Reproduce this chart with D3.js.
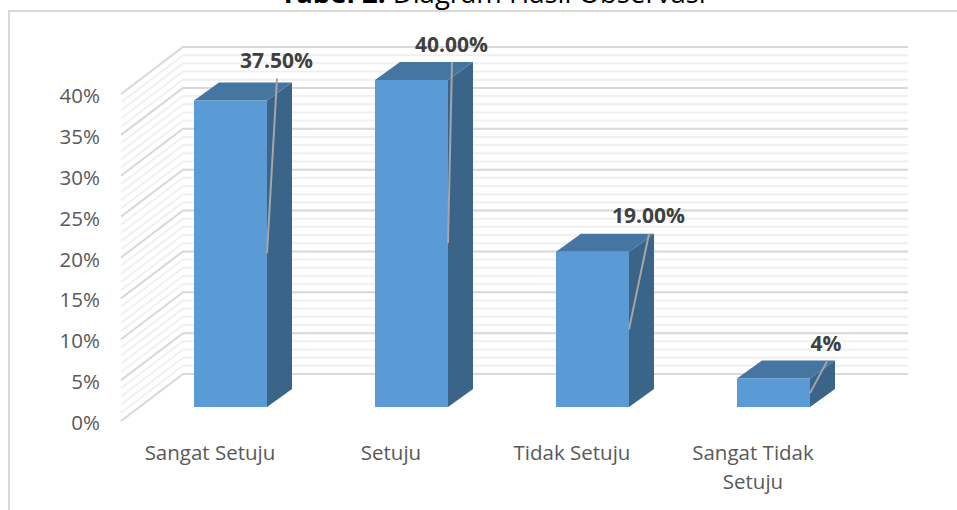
<!DOCTYPE html>
<html>
<head>
<meta charset="utf-8">
<script src="https://d3js.org/d3.v7.min.js"></script>
<style>
    html, body { margin: 0; padding: 0; background: white; overflow: hidden; }
    text { font-family: "Open Sans", sans-serif; }
    .tick text { fill: #595959; font-size: 20.5px; }
    .value-label { fill: #404040; font-size: 21px; font-weight: bold; text-anchor: middle; }
    .title { fill: #000; font-size: 27.5px; text-anchor: middle; }
</style>
</head>
<body>
<svg id="chart" width="957" height="510"></svg>
<script>
    // data
    const categories = ["Sangat Setuju", "Setuju", "Tidak Setuju", "Sangat Tidak Setuju"];
    const values = [37.5, 40, 19, 3.5];
    const valueLabels = ["37.50%", "40.00%", "19.00%", "4%"];
    const yTicks = [0, 5, 10, 15, 20, 25, 30, 35, 40];
    const minorTicks = d3.range(0, 41);

    // label placement relative to the bar's front top-right corner
    const labelDx = [9.5, 3.5, 19.5, 16];
    const labelDy = [-32, -28, -29, -27];
    const leaderTopDx = [10, 4, 20, 17];
    const leaderTopDy = [-22, -18, -18, -17];
    const leaderLow = [18.8, 20.05, 9.5, 1.7];

    const svg = d3.select("#chart");

    // chart frame, only top and left show
    svg.append("path")
        .attr("d", "M9,510V11H957")
        .attr("fill", "none")
        .attr("stroke", "#d9d9d9")
        .attr("stroke-width", 2);

    const title = svg.append("text").attr("class", "title").attr("x", 493).attr("y", 3);
    title.append("tspan").attr("font-weight", "bold").text("Tabel 2.");
    title.append("tspan").text(" Diagram Hasil Observasi");

    const x = d3.scaleBand()
        .domain(categories)
        .range([140, 864])
        .paddingInner(108 / 181)
        .paddingOuter(54 / 181);

    const yBar = d3.scaleLinear().domain([0, 40]).range([407, 80]);
    const yBack = d3.scaleLinear().domain([0, 40]).range([374, 47]);
    const yFront = d3.scaleLinear().domain([0, 40]).range([421, 94]);

    const wallLeft = 121, wallBack = 183, wallRight = 908;
    const depthX = 25, depthY = -18;

    // walls: minor first so the major lines sit on top
    function gridLines(ticks, cls, color, w) {
        svg.append("g").selectAll("path." + cls)
            .data(ticks)
            .enter()
            .append("path")
            .attr("class", cls)
            .attr("fill", "none")
            .attr("stroke", color)
            .attr("stroke-width", w)
            .attr("d", d => `M${wallLeft},${yFront(d)}L${wallBack},${yBack(d)}H${wallRight}`);
    }
    gridLines(minorTicks, "minor", "#f0f0f0", 2);
    gridLines(yTicks, "major", "#d9d9d9", 2);

    // bars
    const bars = svg.append("g").selectAll("g.bar")
        .data(categories)
        .enter()
        .append("g")
        .attr("class", "bar");

    bars.append("path")
        .attr("fill", "#3a6589")
        .attr("d", (d, i) => {
            const r = x(d) + x.bandwidth();
            return `M${r},${yBar(0)}V${yBar(values[i])}l${depthX},${depthY}V${yBar(0) + depthY}Z`;
        });

    bars.append("path")
        .attr("fill", "#4575a1")
        .attr("d", (d, i) => `M${x(d)},${yBar(values[i])}l${depthX},${depthY}h${x.bandwidth()}l${-depthX},${-depthY}Z`);

    bars.append("rect")
        .attr("x", d => x(d))
        .attr("y", (d, i) => yBar(values[i]))
        .attr("width", x.bandwidth())
        .attr("height", (d, i) => yBar(0) - yBar(values[i]))
        .attr("fill", "#5b9bd5");

    // leader lines
    bars.append("line")
        .attr("x1", d => x(d) + x.bandwidth())
        .attr("y1", (d, i) => yBar(leaderLow[i]))
        .attr("x2", (d, i) => x(d) + x.bandwidth() + leaderTopDx[i])
        .attr("y2", (d, i) => yBar(values[i]) + leaderTopDy[i])
        .attr("stroke", "#a6a6a6")
        .attr("stroke-width", 2);

    bars.append("text")
        .attr("class", "value-label")
        .attr("x", (d, i) => x(d) + x.bandwidth() + labelDx[i])
        .attr("y", (d, i) => yBar(values[i]) + labelDy[i])
        .text((d, i) => valueLabels[i]);

    // axes
    svg.append("g")
        .attr("transform", "translate(100,2)")
        .call(d3.axisLeft(yFront).tickValues(yTicks).tickFormat(d => d + "%").tickSize(0).tickPadding(0))
        .call(g => g.select(".domain").remove());

    svg.append("g")
        .attr("transform", "translate(-20.5,437)")
        .call(d3.axisBottom(x).tickSize(0).tickPadding(0).tickFormat(""))
        .call(g => g.select(".domain").remove())
        .selectAll(".tick text")
        .attr("dy", 0)
        .each(function (d) {
            const t = d3.select(this);
            const lines = d === "Sangat Tidak Setuju" ? ["Sangat Tidak", "Setuju"] : [d];
            lines.forEach((s, i) => {
                t.append("tspan").attr("x", 0).attr("y", 23 + i * 28.5).text(s);
            });
        });
</script>
</body>
</html>
